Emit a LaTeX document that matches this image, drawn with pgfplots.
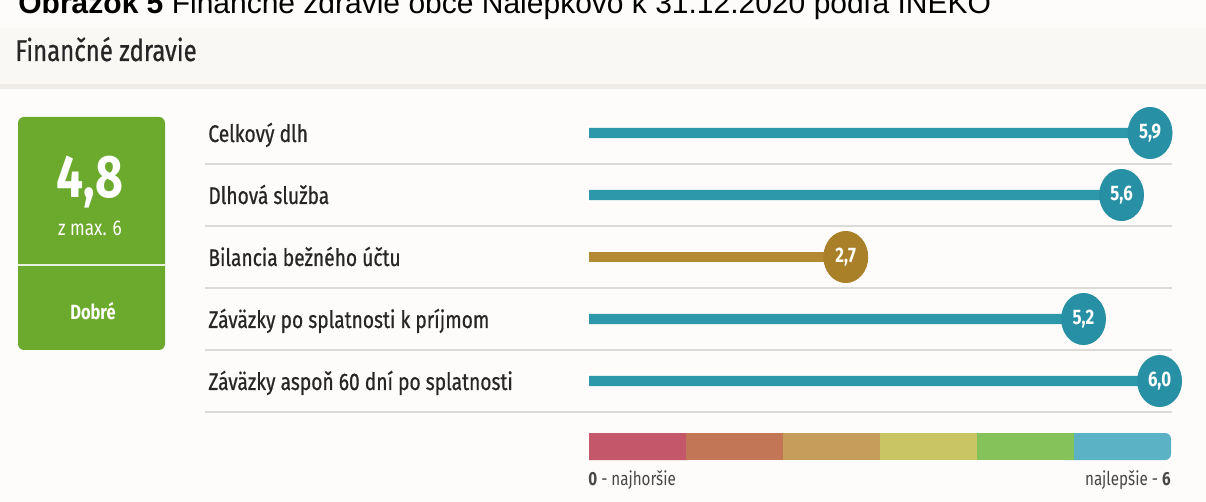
\documentclass[border=0pt]{standalone}
\usepackage{pgfplots}
\pgfplotsset{compat=1.18}
\usepackage{fontspec}
\setmainfont{Fira Sans}[FakeStretch=0.8]
\newfontfamily\medfont{Fira Sans}[FakeStretch=0.8, FakeBold=0.6]
\newfontfamily\capfont{Liberation Sans}
\definecolor{bgc}{HTML}{FDFCFA}
\definecolor{bandc}{HTML}{FAF8F4}
\definecolor{sepc}{HTML}{EEEBE7}
\definecolor{linec}{HTML}{DCDAD7}
\definecolor{greenc}{HTML}{6BAA2C}
\definecolor{tealb}{HTML}{2C98A9}
\definecolor{tealc}{HTML}{2790A4}
\definecolor{goldb}{HTML}{B38934}
\definecolor{goldc}{HTML}{A97F28}
\definecolor{txt}{HTML}{262626}
\definecolor{s1}{HTML}{C4586A}
\definecolor{s2}{HTML}{C27656}
\definecolor{s3}{HTML}{C69D5B}
\definecolor{s4}{HTML}{C9C563}
\definecolor{s5}{HTML}{86C25A}
\definecolor{s6}{HTML}{5BB2C4}
\begin{document}
\begin{tikzpicture}
\begin{scope}[x=0.5pt,y=-0.5pt]
\fill[bgc] (0,0) rectangle (1206,502);
\fill[bandc] (0,28) rectangle (1206,84);
\fill[sepc] (0,84) rectangle (1206,89);
\foreach \yy in {164,226,288,350,412} \draw[linec, line width=0.8pt] (205,\yy) -- (1172,\yy);
\fill[greenc, rounded corners=3pt] (18,117) rectangle (165,350);
\draw[white!85!greenc, line width=1pt] (18,265) -- (165,265);
\node[anchor=base west, inner sep=0, font=\capfont\fontsize{15}{17}\selectfont] at (18,14) {\textbf{Obrázok 5} Finančné zdravie obce Nálepkovo k 31.12.2020 podľa INEKO};
\node[anchor=base west, inner sep=0, text=txt, font=\medfont\fontsize{15}{18}\selectfont] at (15,61) {Finančné zdravie};
\node[anchor=base, inner sep=0, text=white, font=\bfseries\fontsize{30}{32}\selectfont] at (90,198) {4,8};
\node[anchor=base, inner sep=0, text=white, font=\fontsize{10.7}{12}\selectfont] at (90,236) {z max. 6};
\node[anchor=base, inner sep=0, text=white, font=\bfseries\fontsize{10.3}{12}\selectfont] at (93,320) {Dobré};
\begin{scope}[every node/.style={anchor=base west, inner sep=0, text=txt, font=\medfont\fontsize{12}{14}\selectfont}]
\node at (208,142) {Celkový dlh};
\node at (208,204) {Dlhová služba};
\node at (208,266) {Bilancia bežného účtu};
\node at (208,328) {Záväzky po splatnosti k príjmom};
\node at (208,390) {Záväzky aspoň 60 dní po splatnosti};
\end{scope}
\node[anchor=base west, inner sep=0, text=txt!85, font=\fontsize{9.5}{11}\selectfont] at (588,486) {\textbf{0} - najhoršie};
\node[anchor=base east, inner sep=0, text=txt!85, font=\fontsize{9.5}{11}\selectfont] at (1171,486) {najlepšie - \textbf{6}};
\end{scope}
\begin{axis}[at={(0,0)}, anchor=north west, scale only axis, width=603pt, height=251pt,
  xmin=-6.1935, xmax=6.4879, ymin=-1.1452, ymax=6.9516, y dir=reverse,
  hide axis, clip=false,
  /pgf/number format/.cd, fixed, fixed zerofill, precision=1, use comma, assume math mode=true]
% colour scale (outer segments rounded, inner ones drawn over them)
\addplot[fill=s1, draw=none, rounded corners=3pt] coordinates {(0,5.8387) (1.1,5.8387) (1.1,6.2742) (0,6.2742)};
\addplot[fill=s6, draw=none, rounded corners=3pt] coordinates {(5.0,5.8387) (6.12,5.8387) (6.12,6.2742) (5.0,6.2742)};
\addplot[fill=s2, draw=none] coordinates {(1.02,5.8387) (2.04,5.8387) (2.04,6.2742) (1.02,6.2742)};
\addplot[fill=s3, draw=none] coordinates {(2.04,5.8387) (3.06,5.8387) (3.06,6.2742) (2.04,6.2742)};
\addplot[fill=s4, draw=none] coordinates {(3.06,5.8387) (4.08,5.8387) (4.08,6.2742) (3.06,6.2742)};
\addplot[fill=s5, draw=none] coordinates {(4.08,5.8387) (5.1,5.8387) (5.1,6.2742) (4.08,6.2742)};
% bars
\addplot[xbar, bar width=5.2pt, bar shift=0pt, fill=tealb, draw=none] coordinates {(5.9,1) (5.6,2) (5.2,4) (6.0,5)};
\addplot[xbar, bar width=5.2pt, bar shift=0pt, fill=goldb, draw=none] coordinates {(2.7,3)};
% end circles
\addplot[only marks, mark=*, mark size=12.8pt, color=tealc, every mark/.append style={xscale=0.86},
  point meta=x, nodes near coords, nodes near coords style={anchor=center, text=white, font=\bfseries\fontsize{10.5}{12}\selectfont}]
  coordinates {(5.9,1) (5.6,2) (5.2,4) (6.0,5)};
\addplot[only marks, mark=*, mark size=12.8pt, color=goldc, every mark/.append style={xscale=0.86},
  point meta=x, nodes near coords, nodes near coords style={anchor=center, text=white, font=\bfseries\fontsize{10.5}{12}\selectfont}]
  coordinates {(2.7,3)};
\end{axis}
\pgfresetboundingbox
\path[use as bounding box] (0,0) rectangle (603pt,-251pt);
\end{tikzpicture}
\end{document}
